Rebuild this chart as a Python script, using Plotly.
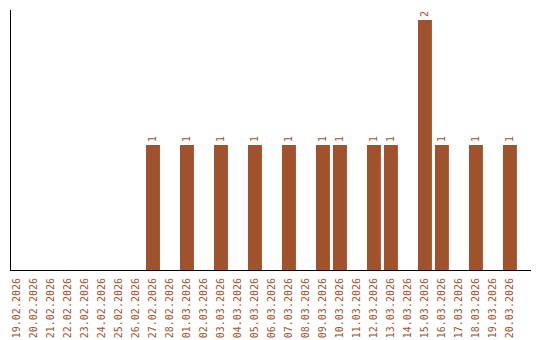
import plotly.graph_objects as go

dates = ["19.02.2026", "20.02.2026", "21.02.2026", "22.02.2026", "23.02.2026",
         "24.02.2026", "25.02.2026", "26.02.2026", "27.02.2026", "28.02.2026",
         "01.03.2026", "02.03.2026", "03.03.2026", "04.03.2026", "05.03.2026",
         "06.03.2026", "07.03.2026", "08.03.2026", "09.03.2026", "10.03.2026",
         "11.03.2026", "12.03.2026", "13.03.2026", "14.03.2026", "15.03.2026",
         "16.03.2026", "17.03.2026", "18.03.2026", "19.03.2026", "20.03.2026"]
counts = [0, 0, 0, 0, 0, 0, 0, 0, 1, 0,
          1, 0, 1, 0, 1, 0, 1, 0, 1, 1,
          0, 1, 1, 0, 2, 1, 0, 1, 0, 1]

color = "#A0522D"
labels = [str(v) if v else "" for v in counts]

fig = go.Figure(go.Bar(
    x=list(range(len(dates))), y=counts,
    marker=dict(color=color, line=dict(width=0)),
    text=labels, textposition="outside", textangle=-90,
    textfont=dict(color=color, size=10, family="DejaVu Sans Mono"),
    cliponaxis=False,
))

fig.update_layout(
    width=540, height=340,
    margin=dict(l=11, r=9, t=10, b=70, autoexpand=False),
    paper_bgcolor="white", plot_bgcolor="white",
    showlegend=False, bargap=0.18,
    font=dict(family="DejaVu Sans Mono", size=10, color=color),
    uniformtext=dict(minsize=10, mode="show"),
)
fig.update_xaxes(
    range=[-0.353, 30.24], tickmode="array",
    tickvals=list(range(len(dates))), ticktext=dates,
    tickangle=-90, showgrid=False, zeroline=False, automargin=False,
    showline=True, linecolor="black", linewidth=1, ticks="",
    ticklabelstandoff=3,
    tickfont=dict(color=color, size=10, family="DejaVu Sans Mono"),
)
fig.update_yaxes(
    range=[0, 2.08], showgrid=False, zeroline=False, automargin=False,
    showline=True, linecolor="black", linewidth=1,
    showticklabels=False, ticks="",
)

fig.write_html("out.html")
